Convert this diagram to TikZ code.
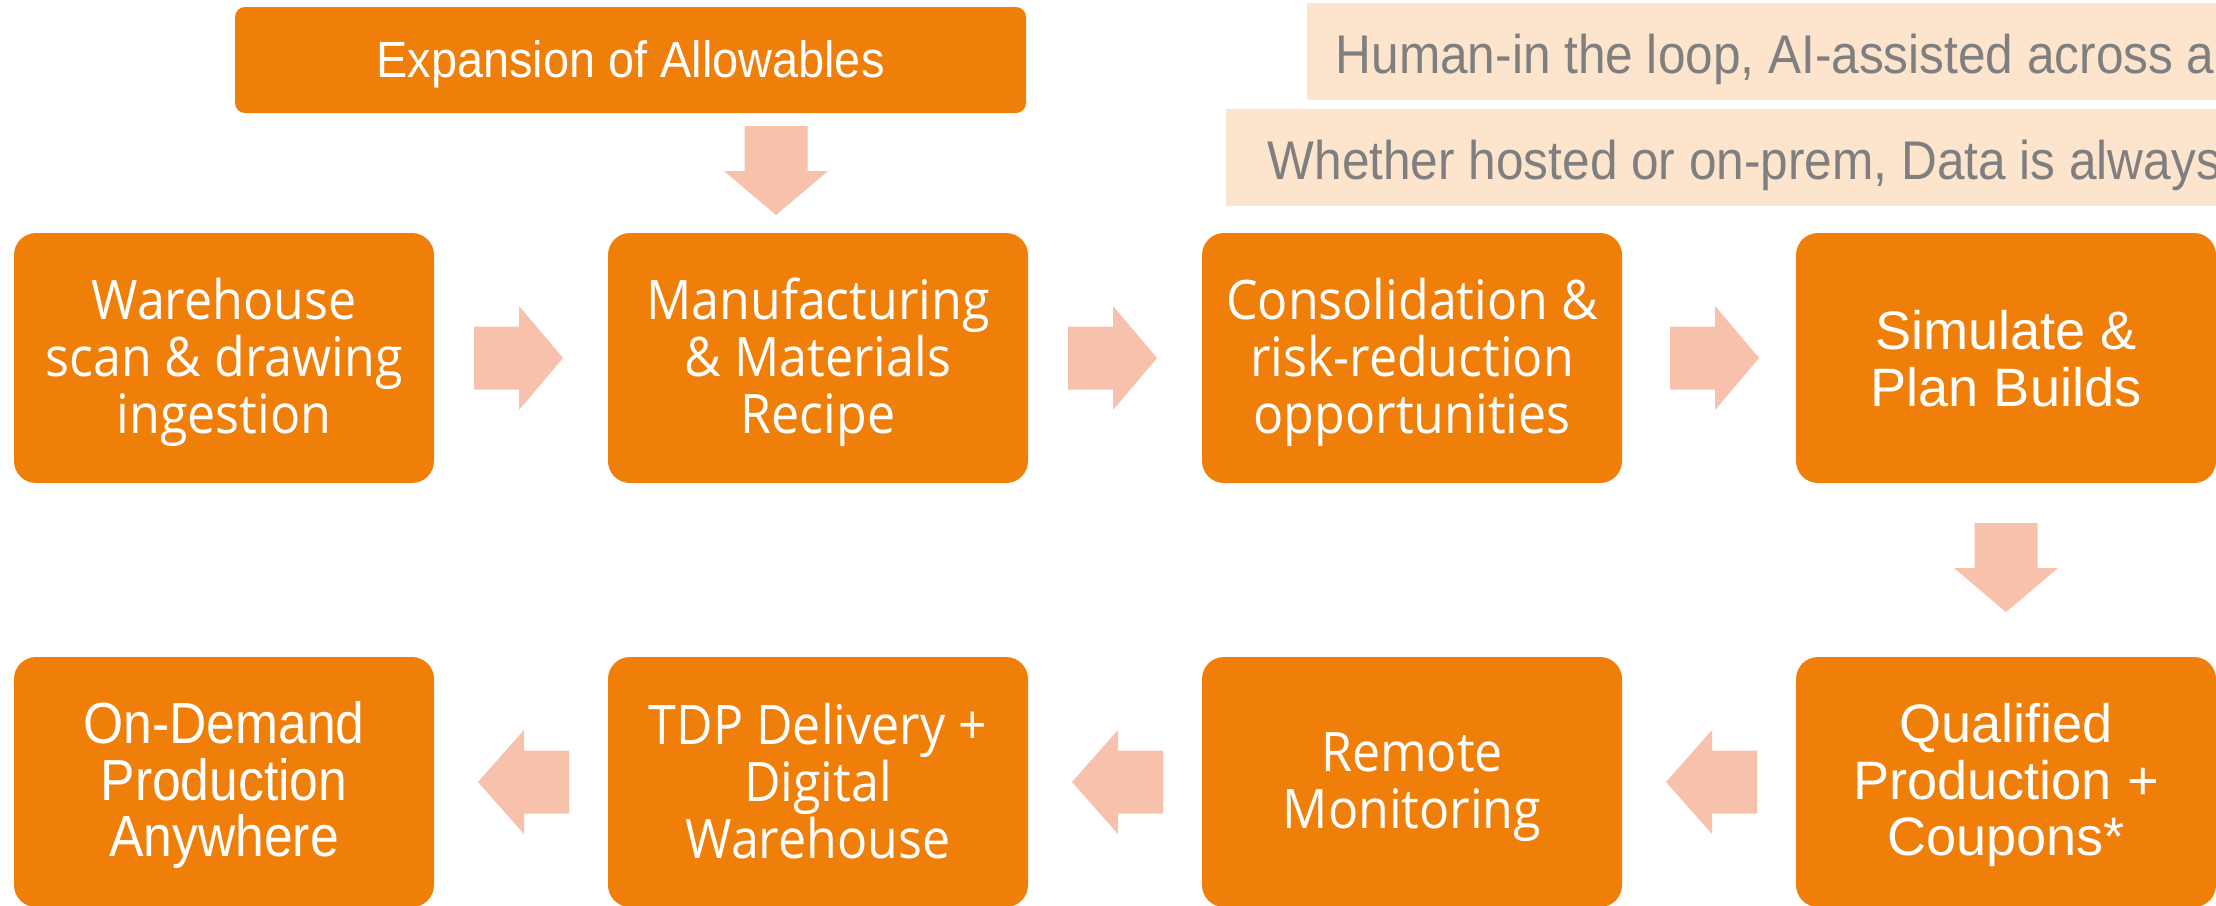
\documentclass[tikz,border=0pt]{standalone}
\usepackage{fontspec}
\usetikzlibrary{calc}
\newfontfamily\frkf[FakeStretch=0.92]{Open Sans}
\newfontfamily\arif{Liberation Sans}
\newfontfamily\narf[FakeStretch=0.89]{Liberation Sans}
\newfontfamily\banf[FakeStretch=0.91]{Liberation Sans}
\newfontfamily\topf[FakeStretch=0.92]{Liberation Sans}
\definecolor{boxor}{RGB}{240,127,9}
\definecolor{arrpk}{RGB}{247,193,172}
\definecolor{banpc}{RGB}{252,228,205}
\definecolor{bantx}{RGB}{127,127,127}
\tikzset{
  stepbox/.style={fill=boxor, rounded corners=2.2mm, minimum width=42mm, minimum height=25mm, inner sep=0pt},
  steptext/.style={text=white, align=center, inner sep=0pt},
  frk/.style={font=\frkf\fontsize{15.5pt}{16.2pt}\selectfont},
  ari/.style={font=\arif\fontsize{15.4pt}{16.2pt}\selectfont},
  nar/.style={font=\narf\fontsize{16.5pt}{16.2pt}\selectfont},
  topbox/.style={fill=boxor, rounded corners=1mm, minimum width=79.1mm, minimum height=10.6mm, inner sep=0pt},
  toptext/.style={text=white, anchor=base, inner sep=0pt, font=\topf\fontsize{14.5pt}{16pt}\selectfont},
  barrow/.style={fill=arrpk},
  banner/.style={fill=banpc},
  bantext/.style={text=bantx, anchor=base west, inner sep=0pt, font=\banf\fontsize{15.5pt}{17pt}\selectfont},
}
\newcommand\blkright[3]{%
  \coordinate (m) at ($(#1.east)!0.5!(#2.west)+(#3,0)$);
  \fill[barrow] ($(m)+(-47,-31.5)$) -- ($(m)+(-2,-31.5)$) -- ($(m)+(-2,-52)$) -- ($(m)+(42,0)$)
    -- ($(m)+(-2,52)$) -- ($(m)+(-2,31.5)$) -- ($(m)+(-47,31.5)$) -- cycle;}
\newcommand\blkleft[2]{%
  \coordinate (m) at ($(#1.west)!0.5!(#2.east)$);
  \fill[barrow] ($(m)+(48,-31.5)$) -- ($(m)+(3,-31.5)$) -- ($(m)+(3,-52)$) -- ($(m)+(-43,0)$)
    -- ($(m)+(3,52)$) -- ($(m)+(3,31.5)$) -- ($(m)+(48,31.5)$) -- cycle;}
\newcommand\blkdown[3]{%
  \coordinate (m) at ($(#1.south -| #2.north)!0.5!(#2.north)+(#3,0)$);
  \fill[barrow] ($(m)+(-31.5,-47)$) -- ($(m)+(-31.5,-2)$) -- ($(m)+(-52,-2)$) -- ($(m)+(0,42)$)
    -- ($(m)+(52,-2)$) -- ($(m)+(31.5,-2)$) -- ($(m)+(31.5,-47)$) -- cycle;}
\begin{document}
\begin{tikzpicture}[x=0.1mm,y=-0.1mm]
\clip (0,0) rectangle (2216,905);
\fill[white] (0,0) rectangle (2216,905);
% banners
\fill[banner] (1307,3) rectangle (2300,100);
\fill[banner] (1226,109) rectangle (2300,206);
\node[bantext] (hitl) at (1335,73) {Human-in the loop, AI-assisted across a};
\node[bantext] (host) at (1267,179) {Whether hosted or on-prem, Data is always};
% top box
\node[topbox] (top) at (630.5,60) {};
\node[toptext] (toptxt) at (630.5,77) {Expansion of Allowables};
% row 1
\node[stepbox] (b1) at (224,358) {};
\node[stepbox] (b2) at (818,358) {};
\node[stepbox] (b3) at (1412,358) {};
\node[stepbox] (b4) at (2006,358) {};
\node[steptext,frk] (t1) at ($(b1)+(0,4)$) {Warehouse\\scan \& drawing\\ingestion};
\node[steptext,frk] (t2) at ($(b2)+(0,4)$) {Manufacturing\\\& Materials\\Recipe};
\node[steptext,frk] (t3) at ($(b3)+(0,4)$) {Consolidation \&\\risk-reduction\\opportunities};
\node[steptext,ari] (t4) at ($(b4)+(0,1)$) {Simulate \&\\Plan Builds};
% row 2
\node[stepbox] (b5) at (2006,782) {};
\node[stepbox] (b6) at (1412,782) {};
\node[stepbox] (b7) at (818,782) {};
\node[stepbox] (b8) at (224,782) {};
\node[steptext,ari] (t5) at ($(b5)+(0,3)$) {Qualified\\Production +\\Coupons*};
\node[steptext,frk] (t6) at ($(b6)+(0,5)$) {Remote\\Monitoring};
\node[steptext,frk] (t7) at ($(b7)+(0,-1)$) {TDP Delivery +\\Digital\\Warehouse};
\node[steptext,nar] (t8) at ($(b8)+(0,3)$) {On-Demand\\Production\\Anywhere};
% arrows
\blkdown{top}{b2}{-42}
\blkright{b1}{b2}{0}
\blkright{b2}{b3}{0}
\blkright{b3}{b4}{8}
\blkdown{b4}{b5}{0}
\blkleft{b5}{b6}
\blkleft{b6}{b7}
\blkleft{b7}{b8}
\end{tikzpicture}
\end{document}
